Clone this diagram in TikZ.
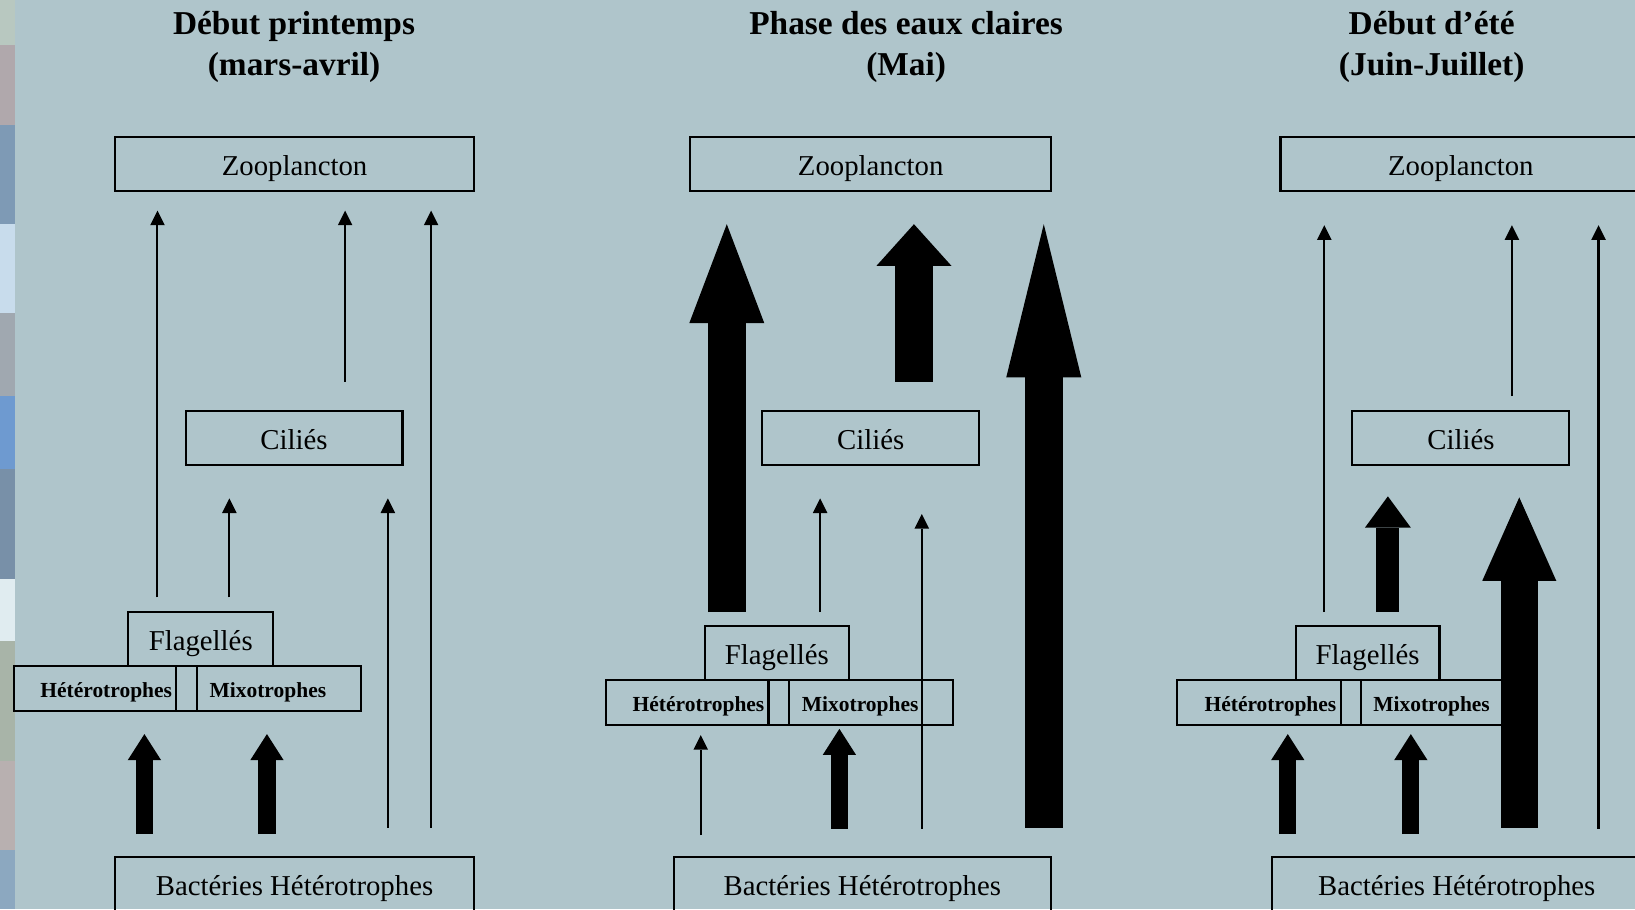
\documentclass[tikz,border=0pt]{standalone}
\usepackage{fontspec}
\setmainfont{Liberation Serif}
\usepackage{tikz}
\usetikzlibrary{arrows.meta,positioning}
\definecolor{PondBg}{HTML}{AFC5CB}
\definecolor{StripA}{HTML}{B8C8C0}
\definecolor{StripB}{HTML}{B0A8AC}
\definecolor{StripC}{HTML}{7E9AB5}
\definecolor{StripD}{HTML}{C8DCEC}
\definecolor{StripE}{HTML}{A0A8B0}
\definecolor{StripF}{HTML}{6E9AD0}
\definecolor{StripG}{HTML}{7890A8}
\definecolor{StripH}{HTML}{E0ECF0}
\definecolor{StripI}{HTML}{A8B4A8}
\definecolor{StripJ}{HTML}{B8B0B0}
\definecolor{StripK}{HTML}{8CA8C0}
\newcommand{\titleFont}{\fontsize{32}{39}\selectfont\bfseries}
\newcommand{\boxFont}{\fontsize{27.6}{32}\selectfont}
\newcommand{\cellFont}{\fontsize{20.6}{24}\selectfont\bfseries}
\tikzset{
  titlenode/.style={font=\titleFont,align=center,inner sep=0pt},
  boxnode/.style={rectangle,draw,line width=2pt,minimum height=52pt,
    font=\boxFont,inner sep=0pt,text height=22pt,text depth=0pt},
  cellnode/.style={rectangle,draw,line width=2pt,minimum height=43pt,
    font=\cellFont,inner ysep=0pt,text height=17.5pt,text depth=0pt},
  hetcell/.style={cellnode,inner xsep=4pt,text width=148pt,align=right},
  mixcell/.style={cellnode,inner xsep=12pt,text width=133pt,align=left},
  thinedge/.style={line width=2pt,
    -{Triangle[width=14pt,length=14pt,line width=0pt]}},
  flowedge/.style n args={3}{line width=#1,
    -{Triangle[width=#2,length=#3,line width=0pt]}},
}

\begin{document}
\begin{tikzpicture}[x=1pt,y=-1pt]
  \useasboundingbox (0,0) rectangle (1568,872);
  \fill[PondBg] (0,0) rectangle (1568,872);
  % photo strip on the left edge
  \foreach \ya/\yb/\col in {0/43/StripA,43/120/StripB,120/215/StripC,
      215/300/StripD,300/380/StripE,380/450/StripF,450/555/StripG,
      555/615/StripH,615/730/StripI,730/815/StripJ,815/872/StripK}
    \fill[\col] (0,\ya) rectangle (14,\yb);

  % early spring
  \node[titlenode](T1)at(282,45){Début printemps\\(mars-avril)};
  \node[boxnode,minimum width=345pt](Z1)at(282.5,157){Zooplancton};
  \node[boxnode,minimum width=208pt](C1)at(282,420){Ciliés};
  \node[boxnode,minimum width=139pt](F1)at(192.5,613){Flagellés};
  \node[hetcell,minimum width=156pt](H1)at(91,660.5){Hétérotrophes};
  \node[cellnode,minimum width=20pt](D1)at(179,660.5){};
  \node[mixcell,minimum width=157pt](M1)at(267.5,660.5){Mixotrophes};
  \node[boxnode,minimum width=345pt](B1)at(282.5,848)
    {Bactéries Hétérotrophes};
  \draw[thinedge,shorten <=13pt,shorten >=18pt]
    ([xshift=-41.5pt]F1.north)--([xshift=-41.5pt]F1.north |- Z1.south);
  \draw[thinedge,shorten <=13pt,shorten >=31pt]
    ([xshift=27.5pt]F1.north)--([xshift=27.5pt]F1.north |- C1.south);
  \draw[thinedge,shorten <=27pt,shorten >=18pt]
    ([xshift=49pt]C1.north)--([xshift=49pt]C1.north |- Z1.south);
  \draw[thinedge,shorten <=27pt,shorten >=31pt]
    ([xshift=89.5pt]B1.north)--([xshift=89.5pt]B1.north |- C1.south);
  \draw[thinedge,shorten <=27pt,shorten >=18pt]
    ([xshift=131pt]B1.north)--([xshift=131pt]B1.north |- Z1.south);
  \draw[flowedge={16.5pt}{32pt}{25pt},shorten <=21pt,shorten >=21pt]
    ([xshift=-144pt]B1.north)--([xshift=-144pt]B1.north |- H1.south);
  \draw[flowedge={16.5pt}{32pt}{25pt},shorten <=21pt,shorten >=21pt]
    ([xshift=-26.5pt]B1.north)--([xshift=-26.5pt]B1.north |- M1.south);

  % clear water phase
  \node[titlenode](T2)at(869,45){Phase des eaux claires\\(Mai)};
  \node[boxnode,minimum width=346pt](Z2)at(835,157){Zooplancton};
  \node[boxnode,minimum width=208pt](C2)at(835,420){Ciliés};
  \node[boxnode,minimum width=138pt](F2)at(745,626){Flagellés};
  \node[hetcell,minimum width=156pt](H2)at(659,673.5){Hétérotrophes};
  \node[cellnode,minimum width=20pt](D2)at(747,673.5){};
  \node[mixcell,minimum width=157pt](M2)at(835.5,673.5){Mixotrophes};
  \node[boxnode,minimum width=362pt](B2)at(827,848)
    {Bactéries Hétérotrophes};
  \draw[flowedge={36.5pt}{72pt}{95pt},shorten <=12pt,shorten >=31pt]
    ([xshift=-48pt]F2.north)--([xshift=-48pt]F2.north |- Z2.south);
  \draw[flowedge={36.5pt}{72pt}{40pt},shorten <=27pt,shorten >=31pt]
    ([xshift=41.5pt]C2.north)--([xshift=41.5pt]C2.north |- Z2.south);
  \draw[flowedge={36.5pt}{72pt}{147pt},shorten <=27pt,shorten >=31pt]
    ([xshift=174pt]B2.north)--([xshift=174pt]B2.north |- Z2.south);
  \draw[thinedge,shorten <=12pt,shorten >=31pt]
    ([xshift=41.5pt]F2.north)--([xshift=41.5pt]F2.north |- C2.south);
  \draw[thinedge,shorten <=26pt,shorten >=46pt]
    ([xshift=57pt]B2.north)--([xshift=57pt]B2.north |- C2.south);
  \draw[thinedge,shorten <=20pt,shorten >=9pt]
    ([xshift=-155pt]B2.north)--([xshift=-155pt]B2.north |- H2.south);
  \draw[flowedge={16.5pt}{32pt}{25pt},shorten <=26pt,shorten >=3pt]
    ([xshift=-22pt]B2.north)--([xshift=-22pt]B2.north |- M2.south);

  % early summer
  \node[titlenode](T3)at(1373,45){Début d’été\\(Juin-Juillet)};
  \node[boxnode,minimum width=346pt](Z3)at(1401,157){Zooplancton};
  \node[boxnode,minimum width=208pt](C3)at(1401,420){Ciliés};
  \node[boxnode,minimum width=138pt](F3)at(1311.5,626){Flagellés};
  \node[hetcell,minimum width=157pt](H3)at(1207.5,673.5){Hétérotrophes};
  \node[cellnode,minimum width=19pt](D3)at(1295.5,673.5){};
  \node[mixcell,minimum width=157pt](M3)at(1383.5,673.5){Mixotrophes};
  \node[boxnode,minimum width=354pt](B3)at(1397,848)
    {Bactéries Hétérotrophes};
  \draw[thinedge,shorten <=12pt,shorten >=32pt]
    ([xshift=-41.5pt]F3.north)--([xshift=-41.5pt]F3.north |- Z3.south);
  \draw[thinedge,shorten <=13pt,shorten >=32pt]
    ([xshift=49pt]C3.north)--([xshift=49pt]C3.north |- Z3.south);
  \draw[thinedge,shorten <=26pt,shorten >=32pt]
    ([xshift=136pt]B3.north)--([xshift=136pt]B3.north |- Z3.south);
  \draw[flowedge={22pt}{44pt}{30pt},shorten <=12pt,shorten >=29pt]
    ([xshift=19.5pt]F3.north)--([xshift=19.5pt]F3.north |- C3.south);
  \draw[flowedge={36pt}{71pt}{80pt},shorten <=27pt,shorten >=30pt]
    ([xshift=60pt]B3.north)--([xshift=60pt]B3.north |- C3.south);
  \draw[flowedge={16.5pt}{32pt}{25pt},shorten <=21pt,shorten >=8pt]
    ([xshift=-162pt]B3.north)--([xshift=-162pt]B3.north |- H3.south);
  \draw[flowedge={16.5pt}{32pt}{25pt},shorten <=21pt,shorten >=8pt]
    ([xshift=-44pt]B3.north)--([xshift=-44pt]B3.north |- M3.south);
\end{tikzpicture}
\end{document}
